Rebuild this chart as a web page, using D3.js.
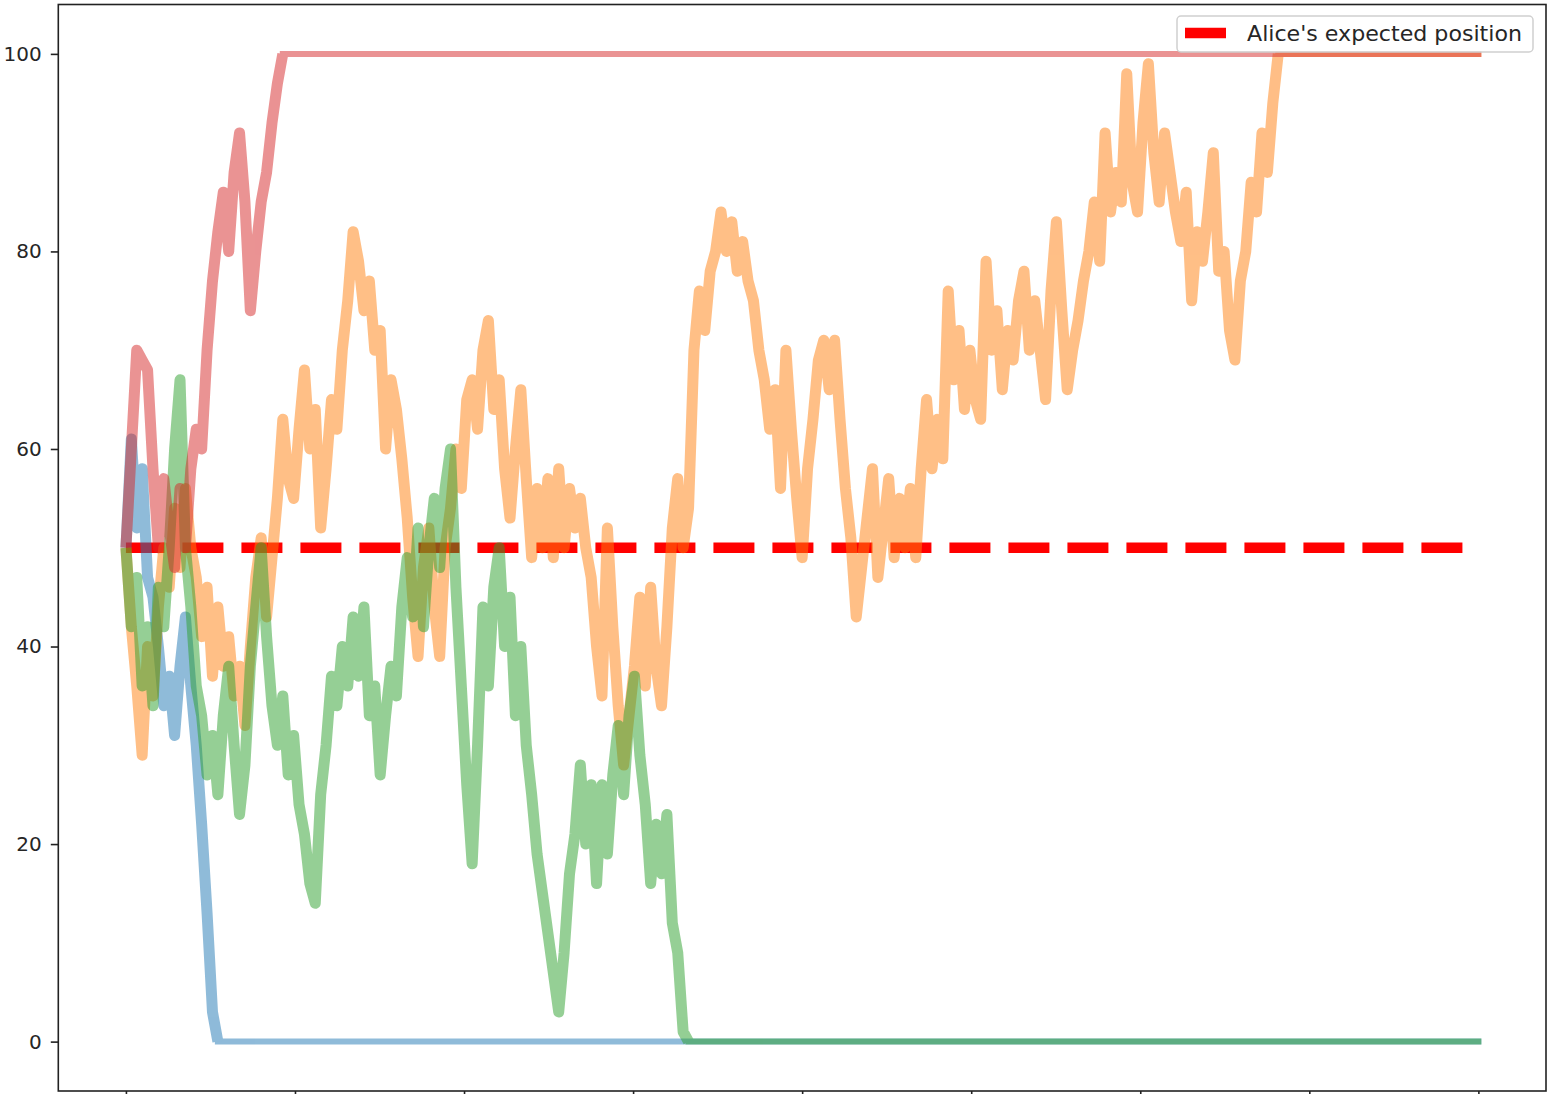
<!DOCTYPE html>
<html><head><meta charset="utf-8">
<script src="https://cdn.jsdelivr.net/npm/d3@7"></script>
<style>body{margin:0;background:#fff} svg{display:block}</style>
</head><body><svg id="chart" width="1548" height="1094"></svg>
<script>
// ---- data ----
const totalSteps = 4000;          // length of every walk
const sampleStep = 16;            // steps between traced samples
const xTickValues = [0, 500, 1000, 1500, 2000, 2500, 3000, 3500, 4000];
const yTickValues = [0, 20, 40, 60, 80, 100];
const expectedPosition = 50;
const legendLabel = "Alice's expected position";

// walks, sampled every `sampleStep` steps until absorbed at 0 or 100
const blueWalk = [50, 61, 52, 58, 47, 45, 40, 34, 37, 31, 38, 43, 36, 30, 22, 13, 3, 0];
const orangeWalk = [
  50, 42, 36, 29, 40, 35, 44, 50, 46, 54,
  48, 56, 50, 47, 41, 46, 37, 44, 38, 41,
  35, 38, 32, 40, 47, 51, 43, 49, 55, 63,
  57, 55, 62, 68, 60, 64, 52, 58, 65, 62,
  70, 75, 82, 79, 74, 77, 70, 72, 60, 67,
  64, 59, 53, 45, 39, 48, 52, 44, 39, 50,
  54, 60, 56, 65, 67, 62, 70, 73, 64, 67,
  58, 53, 60, 66, 57, 49, 56, 50, 57, 49,
  58, 50, 56, 52, 55, 50, 47, 40, 35, 52,
  42, 34, 28, 33, 38, 45, 36, 46, 38, 34,
  42, 52, 57, 50, 54, 70, 76, 72, 78, 80,
  84, 80, 83, 78, 81, 77, 75, 70, 67, 62,
  66, 56, 70, 62, 55, 49, 58, 63, 69, 71,
  66, 71, 63, 56, 51, 43, 48, 53, 58, 47,
  52, 57, 49, 55, 50, 56, 49, 58, 65, 58,
  63, 59, 76, 67, 72, 64, 70, 65, 63, 79,
  70, 74, 66, 72, 69, 75, 78, 70, 75, 70,
  65, 76, 83, 74, 66, 70, 73, 77, 80, 85,
  79, 92, 84, 88, 85, 98, 87, 84, 93, 99,
  90, 85, 92, 88, 84, 81, 86, 75, 82, 79,
  84, 90, 78, 80, 72, 69, 77, 80, 87, 84,
  92, 88, 95, 100
];
const greenWalk = [
  50, 42, 47, 36, 42, 34, 46, 42, 50, 60,
  67, 50, 44, 36, 33, 27, 31, 25, 33, 38,
  30, 23, 28, 38, 44, 50, 41, 34, 30, 35,
  27, 31, 24, 21, 16, 14, 25, 30, 37, 34,
  40, 36, 43, 37, 44, 33, 36, 27, 33, 38,
  35, 44, 49, 43, 52, 42, 50, 55, 48, 56,
  60, 46, 36, 26, 18, 30, 44, 36, 46, 50,
  40, 45, 33, 40, 30, 25, 19, 15, 11, 7,
  3, 9, 17, 21, 28, 20, 26, 16, 26, 19,
  27, 32, 25, 33, 37, 29, 24, 16, 22, 17,
  23, 12, 9, 1, 0
];
const redWalk = [50, 60, 70, 69, 68, 58, 50, 57, 52, 48, 56, 50, 58, 62, 60, 70, 77, 82, 86, 80, 88, 92, 85, 74, 80, 85, 88, 93, 97, 100];

const walks = [blueWalk, orangeWalk, greenWalk, redWalk];
const walkColors = ["#1f77b4", "#ff7f0e", "#2ca02c", "#d62728"];

// ---- layout ----
const W = 1548, H = 1094;
const plot = {left: 58.3, right: 1546, top: 4.5, bottom: 1091};
const x = d3.scaleLinear().domain([-0.05 * totalSteps, 1.05 * totalSteps]).range([plot.left, plot.right]);
const y = d3.scaleLinear().domain([-5, 105]).range([plot.bottom, plot.top]);

const svg = d3.select("#chart");
svg.append("rect").attr("width", W).attr("height", H).attr("fill", "#fff");

svg.append("defs").append("clipPath").attr("id", "plotclip")
  .append("rect").attr("x", plot.left).attr("y", plot.top)
  .attr("width", plot.right - plot.left).attr("height", plot.bottom - plot.top);

const g = svg.append("g").attr("clip-path", "url(#plotclip)");
const line = d3.line().x(d => x(d[0])).y(d => y(d[1]));

// expected position (drawn first, beneath the walks)
g.append("path")
  .datum([[0, expectedPosition], [totalSteps, expectedPosition]])
  .attr("d", line)
  .attr("fill", "none").attr("stroke", "#ff0000")
  .attr("stroke-width", 10.5).attr("stroke-dasharray", "41 18").attr("stroke-dashoffset", 2.5);

// walks: the noisy part reads as a wider band; once absorbed the walk keeps its value
walks.forEach((vals, k) => {
  const pts = vals.map((v, i) => [i * sampleStep, v]);
  const last = pts[pts.length - 1];
  const wg = g.append("g").attr("opacity", 0.5);
  wg.append("path").datum([last, [totalSteps, last[1]]]).attr("d", line)
    .attr("fill", "none").attr("stroke", walkColors[k])
    .attr("stroke-width", 6).attr("stroke-linecap", "square");
  wg.append("path").datum(pts).attr("d", line)
    .attr("fill", "none").attr("stroke", walkColors[k])
    .attr("stroke-width", 11)
    .attr("stroke-linejoin", "round").attr("stroke-linecap", "butt");
});

// axes
const yAxis = svg.append("g").attr("transform", `translate(${plot.left},0)`)
  .call(d3.axisLeft(y).tickValues(yTickValues).tickSize(7.5).tickPadding(9));
yAxis.select(".domain").remove();
yAxis.selectAll("line").attr("stroke", "#222").attr("stroke-width", 1.6);
yAxis.selectAll("text").attr("font-family", "DejaVu Sans").attr("font-size", 20).attr("fill", "#262626");

const xAxis = svg.append("g").attr("transform", `translate(0,${plot.bottom})`)
  .call(d3.axisBottom(x).tickValues(xTickValues).tickSize(7.5).tickFormat(() => ""));
xAxis.select(".domain").remove();
xAxis.selectAll("line").attr("stroke", "#222").attr("stroke-width", 1.6);

// frame
svg.append("rect").attr("x", plot.left).attr("y", plot.top)
  .attr("width", plot.right - plot.left).attr("height", plot.bottom - plot.top)
  .attr("fill", "none").attr("stroke", "#222").attr("stroke-width", 1.6);

// legend
const lg = svg.append("g");
lg.append("rect").attr("x", 1177).attr("y", 16).attr("width", 356).attr("height", 36)
  .attr("rx", 4).attr("fill", "#fff").attr("fill-opacity", 0.8)
  .attr("stroke", "#d0d0d0").attr("stroke-width", 1.5);
lg.append("line").attr("x1", 1185).attr("x2", 1229).attr("y1", 33).attr("y2", 33)
  .attr("stroke", "#ff0000").attr("stroke-width", 10.5).attr("stroke-dasharray", "41 18");
lg.append("text").attr("x", 1247).attr("y", 40.5).text(legendLabel)
  .attr("font-family", "DejaVu Sans").attr("font-size", 20.5).attr("fill", "#262626")
  .attr("textLength", 275).attr("lengthAdjust", "spacingAndGlyphs");
</script>
</body></html>
